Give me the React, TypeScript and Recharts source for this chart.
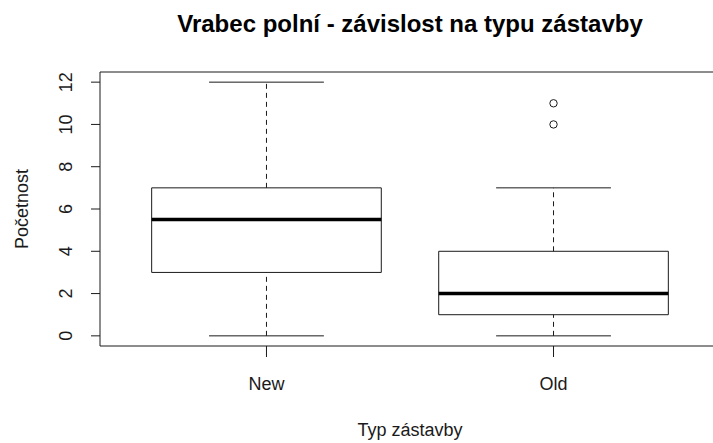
import { ComposedChart, XAxis, YAxis, Scatter, ReferenceArea, ReferenceLine } from 'recharts';

// box statistics per building type
const categories = ['New', 'Old'];
const whiskerLow = [0, 0];
const lowerQuartile = [3, 1];
const medians = [5.5, 2];
const upperQuartile = [7, 4];
const whiskerHigh = [12, 7];
const outliers: number[][] = [[], [10, 11]];
const yTicks = [0, 2, 4, 6, 8, 10, 12];

const FONT = '"Liberation Sans", Arial, Helvetica, sans-serif';
const INK = '#1a1a1a';
const BOX_HALF = 0.4;
const CAP_HALF = 0.2;

const outlierPoints = outliers.flatMap((vals, i) => vals.map((v) => ({ x: i + 1, y: v })));

function YTick({ x, y, payload }: any) {
  return (
    <text
      x={x}
      y={y}
      transform={`rotate(-90 ${x} ${y})`}
      textAnchor="middle"
      fontSize={18}
      fontFamily={FONT}
      fill={INK}
    >
      {payload.value}
    </text>
  );
}

function XTick({ x, y, payload }: any) {
  return (
    <text x={x} y={y} dy="0.71em" textAnchor="middle" fontSize={18} fontFamily={FONT} fill={INK}>
      {categories[payload.value - 1]}
    </text>
  );
}

const OutlierDot = (props: any) => (
  <circle cx={props.cx} cy={props.cy} r={3.7} fill="#fff" stroke={INK} strokeWidth={1} />
);

export default function App() {
  const parts: any[] = [];
  categories.forEach((_, i) => {
    const c = i + 1;
    parts.push(
      <ReferenceLine
        key={`wu${i}`}
        segment={[{ x: c, y: upperQuartile[i] }, { x: c, y: whiskerHigh[i] }]}
        stroke={INK}
        strokeDasharray="5 4"
      />,
      <ReferenceLine
        key={`wl${i}`}
        segment={[{ x: c, y: whiskerLow[i] }, { x: c, y: lowerQuartile[i] }]}
        stroke={INK}
        strokeDasharray="5 4"
      />,
      <ReferenceLine
        key={`cu${i}`}
        segment={[{ x: c - CAP_HALF, y: whiskerHigh[i] }, { x: c + CAP_HALF, y: whiskerHigh[i] }]}
        stroke={INK}
      />,
      <ReferenceLine
        key={`cl${i}`}
        segment={[{ x: c - CAP_HALF, y: whiskerLow[i] }, { x: c + CAP_HALF, y: whiskerLow[i] }]}
        stroke={INK}
      />,
      <ReferenceArea
        key={`b${i}`}
        x1={c - BOX_HALF}
        x2={c + BOX_HALF}
        y1={lowerQuartile[i]}
        y2={upperQuartile[i]}
        fill="#fff"
        fillOpacity={1}
        stroke={INK}
        strokeWidth={1}
      />,
      <ReferenceLine
        key={`m${i}`}
        segment={[{ x: c - BOX_HALF, y: medians[i] }, { x: c + BOX_HALF, y: medians[i] }]}
        stroke="#000"
        strokeWidth={3.5}
      />
    );
  });

  return (
    <div
      style={{
        position: 'absolute',
        left: 0,
        top: 0,
        width: 713,
        height: 443,
        overflow: 'hidden',
        background: '#fff',
      }}
    >
      <ComposedChart width={730} height={443} margin={{ top: 72, right: 10, bottom: 37, left: 0 }}>
        <XAxis
          type="number"
          dataKey="x"
          domain={[0.42, 2.58]}
          allowDataOverflow
          ticks={[1, 2]}
          tick={<XTick />}
          tickSize={11}
          tickMargin={20}
          tickLine={{ stroke: INK }}
          axisLine={false}
          height={60}
        />
        <YAxis
          type="number"
          dataKey="y"
          domain={[-0.48, 12.48]}
          allowDataOverflow
          ticks={yTicks}
          tick={<YTick />}
          tickSize={9}
          tickMargin={19}
          tickLine={{ stroke: INK }}
          axisLine={false}
          width={100}
        />
        <ReferenceArea x1={0.42} x2={2.58} y1={-0.48} y2={12.48} fill="none" stroke={INK} strokeWidth={1} />
        {parts}
        <Scatter data={outlierPoints} shape={<OutlierDot />} isAnimationActive={false} />
      </ComposedChart>
      <svg
        width={713}
        height={443}
        style={{ position: 'absolute', left: 0, top: 0, pointerEvents: 'none' }}
      >
        <text x={410} y={32} textAnchor="middle" fontSize={24} fontWeight="bold" fontFamily={FONT} fill="#000">
          Vrabec polní - závislost na typu zástavby
        </text>
        <text x={410} y={436} textAnchor="middle" fontSize={18} fontFamily={FONT} fill={INK}>
          Typ zástavby
        </text>
        <text
          x={28}
          y={209}
          transform="rotate(-90 28 209)"
          textAnchor="middle"
          fontSize={18}
          fontFamily={FONT}
          fill={INK}
        >
          Početnost
        </text>
      </svg>
    </div>
  );
}
